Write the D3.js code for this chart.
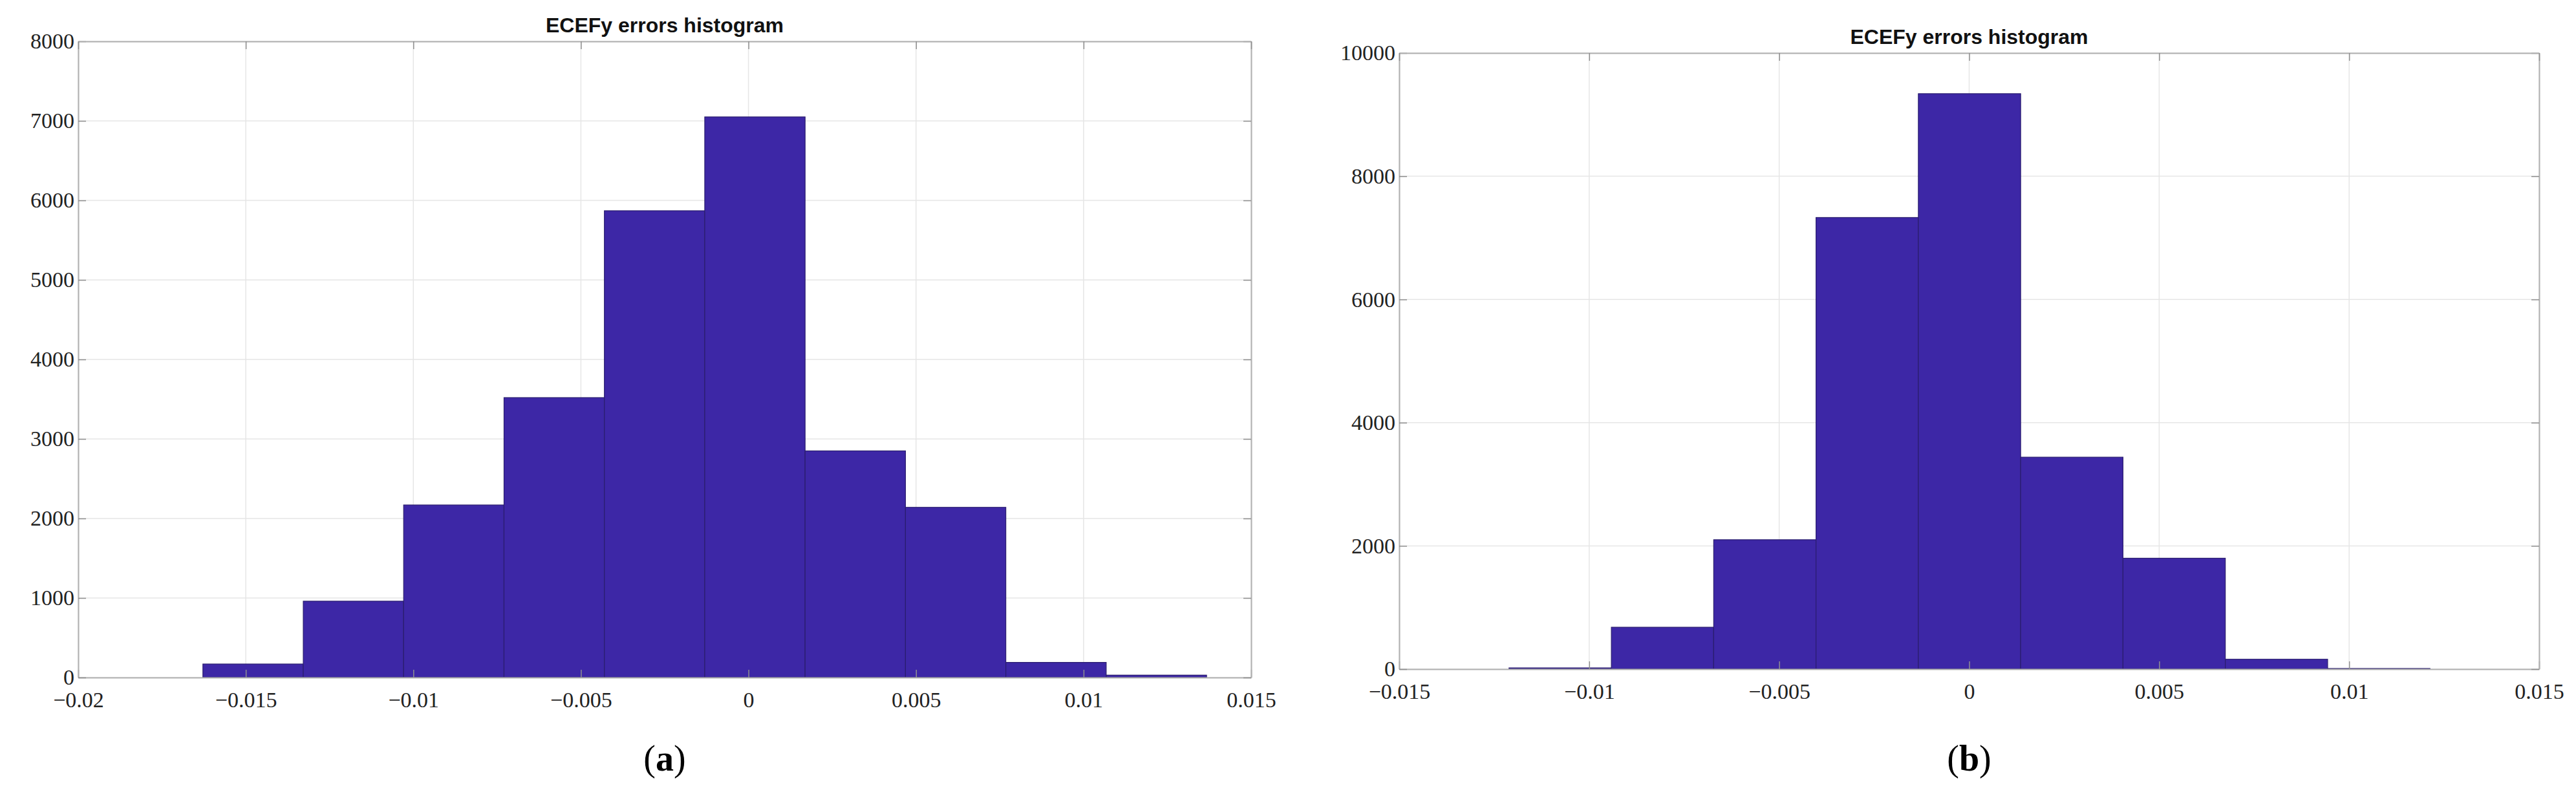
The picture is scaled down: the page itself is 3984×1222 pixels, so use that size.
<!DOCTYPE html>
<html>
<head>
<meta charset="utf-8">
<script src="https://cdn.jsdelivr.net/npm/d3@7"></script>
<style>
  body { margin: 0; background: #fff; }
  .tick text { font-family: "Liberation Serif", "DejaVu Serif", serif; }
</style>
</head>
<body>
<svg id="chart" width="3984" height="1222"></svg>
<script>
// panel (a)
const countsA = [170, 960, 2170, 3520, 5870, 7050, 2850, 2140, 190, 30];
const startA = -0.01628, widthA = 0.002995;
const xTicksA = [-0.02, -0.015, -0.01, -0.005, 0, 0.005, 0.01, 0.015];
const yTicksA = [0, 1000, 2000, 3000, 4000, 5000, 6000, 7000, 8000];

// panel (b)
const countsB = [20, 680, 2100, 7330, 9340, 3440, 1800, 160, 10];
const startB = -0.01211, widthB = 0.002693;
const xTicksB = [-0.015, -0.01, -0.005, 0, 0.005, 0.01, 0.015];
const yTicksB = [0, 2000, 4000, 6000, 8000, 10000];

const svg = d3.select('#chart');
const fill = '#3d27a6';

function panel(opt) {
    const g = svg.append('g');
    const x = d3.scaleLinear().domain(opt.xDomain).range([opt.left, opt.right]);
    const y = d3.scaleLinear().domain(opt.yDomain).range([opt.bottom, opt.top]);

    // grid
    g.selectAll('.gx').data(opt.xTicks).enter().append('line')
        .attr('x1', d => x(d)).attr('x2', d => x(d))
        .attr('y1', opt.top).attr('y2', opt.bottom)
        .attr('stroke', '#e6e6e6').attr('stroke-width', 1.5);
    g.selectAll('.gy').data(opt.yTicks).enter().append('line')
        .attr('x1', opt.left).attr('x2', opt.right)
        .attr('y1', d => y(d)).attr('y2', d => y(d))
        .attr('stroke', '#e6e6e6').attr('stroke-width', 1.5);

    // bars
    const bins = opt.counts.map((c, i) => ({ x0: opt.start + i * opt.width, x1: opt.start + (i + 1) * opt.width, c }));
    g.selectAll('rect').data(bins).enter().append('rect')
        .attr('x', d => x(d.x0))
        .attr('width', d => x(d.x1) - x(d.x0))
        .attr('y', d => y(d.c))
        .attr('height', d => y(0) - y(d.c))
        .attr('fill', fill)
        .attr('stroke', '#2a1d6e')
        .attr('stroke-width', 1.2);

    // axes
    const xa = g.append('g').attr('transform', `translate(0,${opt.bottom})`)
        .call(d3.axisBottom(x).tickValues(opt.xTicks).tickFormat(d => d3.format('')(+d.toFixed(3))).tickSizeInner(-12).tickSizeOuter(0).tickPadding(22));
    const ya = g.append('g').attr('transform', `translate(${opt.left},0)`)
        .call(d3.axisLeft(y).tickValues(opt.yTicks).tickFormat(d3.format('d')).tickSizeInner(-12).tickSizeOuter(0).tickPadding(6));
    g.append('g').attr('transform', `translate(${opt.right},0)`)
        .call(d3.axisRight(y).tickValues(opt.yTicks).tickFormat('').tickSizeInner(-12).tickSizeOuter(0));
    g.append('g').attr('transform', `translate(0,${opt.top})`)
        .call(d3.axisTop(x).tickValues(opt.xTicks).tickFormat('').tickSizeInner(-12).tickSizeOuter(0));
    g.selectAll('.domain').attr('stroke', '#b0b0b0').attr('stroke-width', 2);
    g.selectAll('.tick line').attr('stroke', '#909090').attr('stroke-width', 1.5);
    g.selectAll('.tick text').attr('font-size', 34).attr('fill', '#222');

    g.append('text').attr('x', (opt.left + opt.right) / 2).attr('y', opt.top - 14)
        .attr('text-anchor', 'middle').attr('font-family', 'Liberation Sans, Arial, sans-serif')
        .attr('font-weight', 'bold').attr('font-size', 32).attr('fill', '#111')
        .text('ECEFy errors histogram');

    const lab = g.append('text').attr('x', (opt.left + opt.right) / 2).attr('y', 1192)
        .attr('text-anchor', 'middle').attr('font-family', 'Liberation Serif, serif')
        .attr('font-size', 56).attr('fill', '#000');
    lab.append('tspan').text('(');
    lab.append('tspan').attr('font-weight', 'bold').text(opt.label);
    lab.append('tspan').text(')');
}

panel({ counts: countsA, start: startA, width: widthA, xTicks: xTicksA, yTicks: yTicksA,
    xDomain: [-0.02, 0.015], yDomain: [0, 8000], left: 121, right: 1935, top: 64, bottom: 1048, label: 'a' });
panel({ counts: countsB, start: startB, width: widthB, xTicks: xTicksB, yTicks: yTicksB,
    xDomain: [-0.015, 0.015], yDomain: [0, 10000], left: 2164, right: 3927, top: 82, bottom: 1035, label: 'b' });
</script>
</body>
</html>
